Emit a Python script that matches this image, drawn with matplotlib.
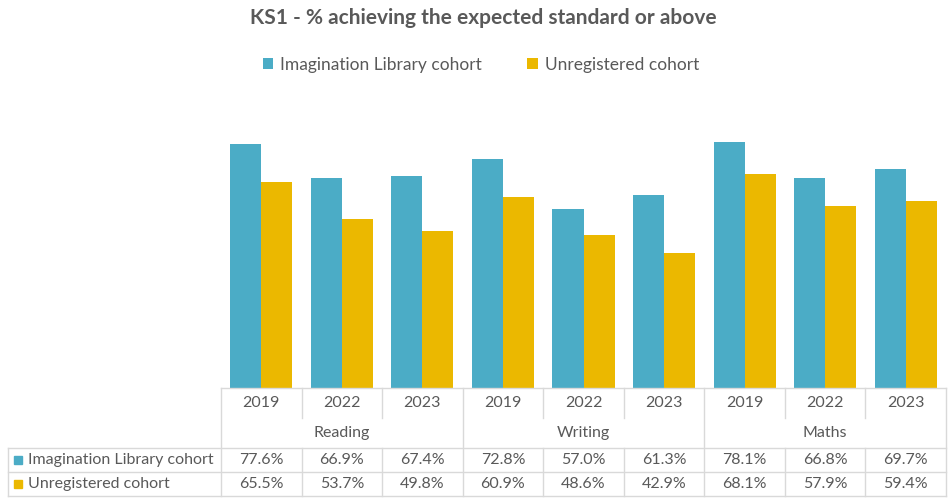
import numpy as np
import matplotlib.pyplot as plt
from matplotlib.patches import Rectangle
from matplotlib.lines import Line2D

plt.rcParams['font.family'] = ['Lato', 'DejaVu Sans']

# Data
subjects = ['Reading', 'Writing', 'Maths']
years = ['2019', '2022', '2023']
series_names = ['Imagination Library cohort', 'Unregistered cohort']
imagination = [77.6, 66.9, 67.4, 72.8, 57.0, 61.3, 78.1, 66.8, 69.7]
unregistered = [65.5, 53.7, 49.8, 60.9, 48.6, 42.9, 68.1, 57.9, 59.4]
colors = ['#4BACC6', '#EBB800']

W, H = 950, 498
fig = plt.figure(figsize=(9.5, 4.98), dpi=100)

def fx(px):
    return px / W

def fy(py):
    return 1 - py / H

# plot area
left, right, base, top = 221, 946, 388, 105
ax = fig.add_axes([fx(left), fy(base), fx(right) - fx(left), fy(top) - fy(base)])
x = np.arange(len(imagination))
bw = 0.385
ax.bar(x - bw / 2, imagination, bw, color=colors[0], label=series_names[0])
ax.bar(x + bw / 2, unregistered, bw, color=colors[1], label=series_names[1])
ax.set_xlim(-0.5, len(x) - 0.5)
ax.set_ylim(0, 90)
ax.set_xticks([])
ax.set_yticks([])
for s in ['top', 'left', 'right', 'bottom']:
    ax.spines[s].set_visible(False)

# title and legend
fig.text(fx(483), fy(18), 'KS1 - % achieving the expected standard or above',
         ha='center', va='center', fontsize=15, fontweight='bold', color='#595959')
leg = fig.legend(loc='center', bbox_to_anchor=(fx(481), fy(65)), ncol=2, frameon=False,
                 fontsize=12.5, handlelength=0.6, handleheight=0.6, columnspacing=2.6,
                 handletextpad=0.4)
for t in leg.get_texts():
    t.set_color('#595959')

# data table
grid = '#D9D9D9'
txt = '#595959'
fs = 11.5
colw = (right - left) / len(x)
row_year, row_subj, row1, row2, row_end = 388, 418, 448, 472, 496

def hline(y, x0, x1):
    fig.add_artist(Line2D([fx(x0), fx(x1)], [fy(y), fy(y)], color=grid, lw=1))

def vline(xp, y0, y1):
    fig.add_artist(Line2D([fx(xp), fx(xp)], [fy(y0), fy(y1)], color=grid, lw=1))

hline(row_year, left, right)
hline(row1, 8, right)
hline(row2, 8, right)
hline(row_end, 8, right)
vline(left, row_year, row_end)
vline(8, row1, row_end)
vline(right, row_year, row_end)
for i in range(1, len(x)):
    xp = left + i * colw
    if i % 3 == 0:
        vline(xp, row_year, row_end)
    else:
        vline(xp, row_year, row_subj)
        vline(xp, row1, row_end)

for i in range(len(x)):
    cx = left + (i + 0.5) * colw
    fig.text(fx(cx), fy((row_year + row_subj) / 2), years[i % 3], ha='center', va='center',
             fontsize=fs, color=txt)
    fig.text(fx(cx), fy((row1 + row2) / 2), f'{imagination[i]:.1f}%', ha='center', va='center',
             fontsize=fs, color=txt)
    fig.text(fx(cx), fy((row2 + row_end) / 2), f'{unregistered[i]:.1f}%', ha='center', va='center',
             fontsize=fs, color=txt)
for j, subj in enumerate(subjects):
    cx = left + (3 * j + 1.5) * colw
    fig.text(fx(cx), fy((row_subj + row1) / 2), subj, ha='center', va='center',
             fontsize=fs, color=txt)

for k, (name, yc) in enumerate(zip(series_names, [(row1 + row2) / 2, (row2 + row_end) / 2])):
    fig.add_artist(Rectangle((fx(14), fy(yc + 4)), fx(8), fy(0) - fy(8), color=colors[k]))
    fig.text(fx(28), fy(yc), name, ha='left', va='center', fontsize=fs, color=txt)

fig.savefig('out.png', dpi=100)
